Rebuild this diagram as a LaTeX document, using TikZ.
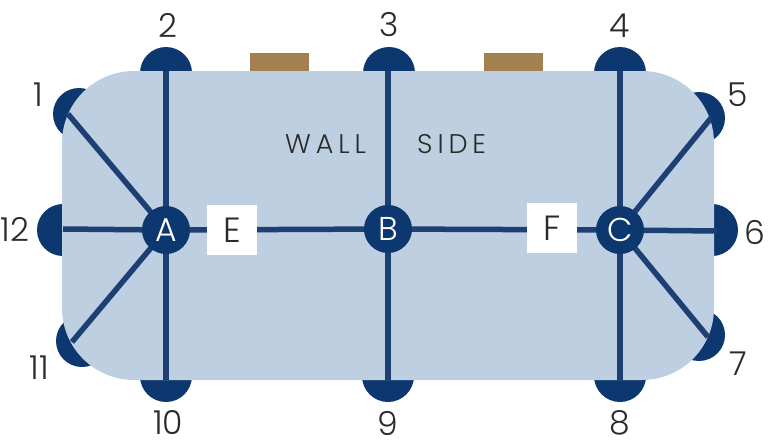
\documentclass[tikz,border=0pt]{standalone}
\usepackage{fontspec}
\setmainfont{Poppins Light}
\newfontfamily\spacedfont[LetterSpace=18]{Poppins Light}
\definecolor{tablecol}{HTML}{BDCFE0}
\definecolor{chaircol}{HTML}{0C386F}
\definecolor{linecol}{HTML}{1D3F74}
\definecolor{textcol}{HTML}{2B2B2B}
\definecolor{browncol}{HTML}{A2804F}
\tikzset{
  chair/.style={fill=chaircol, draw=none},
  hub/.style={circle, fill=chaircol, minimum size=48pt, inner sep=0pt, text=white, font=\fontsize{33}{33}\selectfont},
  tag/.style={rectangle, fill=white, minimum size=50pt, inner sep=0pt, text=textcol, font=\fontsize{35}{35}\selectfont},
  num/.style={text=textcol, font=\fontsize{33}{33}\selectfont, inner sep=0pt},
  link/.style={draw=linecol, line width=5.5pt},
}
\begin{document}
\begin{tikzpicture}[x=1pt,y=-1pt]
\useasboundingbox (0,0) rectangle (768,445);
% chairs (behind table)
\foreach \x/\y in {79/114,166/73,389/73,620/73,699/118,712/230,699/335,620/376,388/376,166/376,82/341,63/230}
  \fill[chair] (\x,\y) circle (26);
% windows
\fill[browncol] (250,53) rectangle (309,71);
\fill[browncol] (484,53) rectangle (543,71);
% table
\fill[tablecol, rounded corners=72pt] (62,71) rectangle (714,380);
\node[text=textcol, font=\spacedfont\fontsize{27}{27}\selectfont, anchor=base west, inner sep=0pt] (wall) at (285,153) {WALL};
\node[text=textcol, font=\spacedfont\fontsize{27}{27}\selectfont, anchor=base west, inner sep=0pt] (side) at (417,153) {SIDE};
% seat end points
\coordinate (s1) at (68,114);
\coordinate (s2) at (166,71);
\coordinate (s3) at (388,71);
\coordinate (s4) at (620,71);
\coordinate (s5) at (711,118);
\coordinate (s6) at (717,231);
\coordinate (s7) at (708,337);
\coordinate (s8) at (620,380);
\coordinate (s9) at (388,380);
\coordinate (s10) at (166,380);
\coordinate (s11) at (72,342);
\coordinate (s12) at (63,229);
\coordinate (a) at (166,230);
\coordinate (b) at (388,229);
\coordinate (c) at (620,230);
% connectors
\draw[link] (a) -- (s1);
\draw[link] (a) -- (s2);
\draw[link] (a) -- (s10);
\draw[link] (a) -- (s11);
\draw[link] (a) -- (s12);
\draw[link] (a) -- (b);
\draw[link] (b) -- (s3);
\draw[link] (b) -- (s9);
\draw[link] (b) -- (c);
\draw[link] (c) -- (s4);
\draw[link] (c) -- (s5);
\draw[link] (c) -- (s6);
\draw[link] (c) -- (s7);
\draw[link] (c) -- (s8);
% hubs and tags
\node[hub] (A) at (a) {A};
\node[hub] (B) at (b) {B};
\node[hub] (C) at (c) {C};
\node[tag] (E) at (232,230) {E};
\node[tag] (F) at (552,228) {F};
% numbers
\node[num] (n1) at (38,95) {1};
\node[num] (n2) at (168,25) {2};
\node[num] (n3) at (389,25) {3};
\node[num] (n4) at (620,26) {4};
\node[num] (n5) at (738,95) {5};
\node[num] (n6) at (755,232) {6};
\node[num] (n7) at (738,364) {7};
\node[num] (n8) at (620,423) {8};
\node[num] (n9) at (388,423) {9};
\node[num] (n10) at (168,423) {10};
\node[num] (n11) at (39,368) {11};
\node[num] (n12) at (15,229) {12};
\end{tikzpicture}
\end{document}
